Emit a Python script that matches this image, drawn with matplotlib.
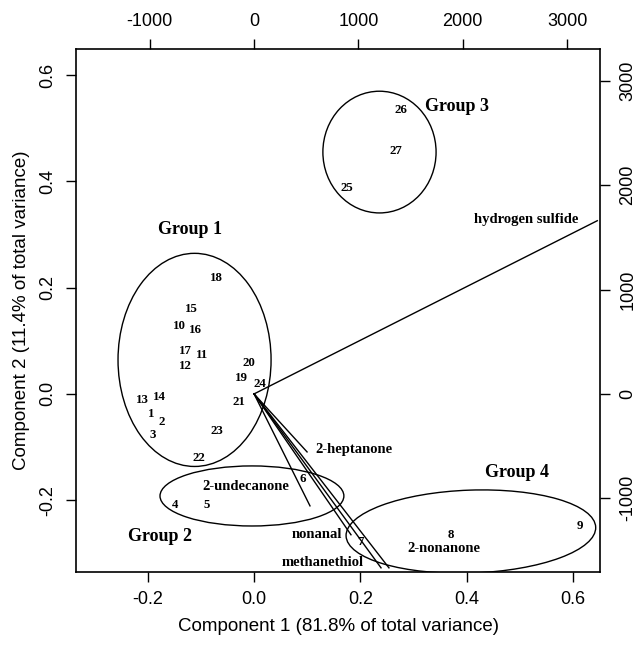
import numpy as np
from matplotlib import pyplot as plt
from matplotlib.patches import Ellipse

# scores (component 1, component 2) of the 27 samples
sample_ids = [str(i) for i in range(1, 28)]
pc1 = [-0.194, -0.173, -0.190, -0.149, -0.090, 0.092, 0.201, 0.371, 0.613,
       -0.141, -0.098, -0.130, -0.211, -0.179, -0.118, -0.111, -0.130, -0.070,
       -0.024, -0.009, -0.028, -0.103, -0.070, 0.011, 0.175, 0.276, 0.267]
pc2 = [-0.038, -0.053, -0.077, -0.209, -0.209, -0.160, -0.278, -0.265, -0.248,
       0.128, 0.073, 0.053, -0.011, -0.006, 0.160, 0.120, 0.081, 0.218,
       0.030, 0.058, -0.015, -0.120, -0.070, 0.019, 0.387, 0.534, 0.457]

# loadings of the volatile compounds (top / right scale)
compounds = ['hydrogen sulfide', '2-heptanone', '2-undecanone',
             'nonanal', 'methanethiol', '2-nonanone']
load1 = [3290, 508, 536, 929, 1217, 1293]
load2 = [1660, -556, -1073, -1350, -1667, -1667]
compound_lab_x = [0.513, 0.188, -0.015, 0.118, 0.130, 0.357]
compound_lab_y = [0.329, -0.105, -0.175, -0.265, -0.318, -0.290]

# groups: ellipse centre, width, height, and label position
groups = ['Group 1', 'Group 2', 'Group 3', 'Group 4']
grp_cx = [-0.112, -0.004, 0.236, 0.408]
grp_cy = [0.064, -0.192, 0.455, -0.259]
grp_w = [0.288, 0.346, 0.213, 0.470]
grp_h = [0.401, 0.113, 0.229, 0.156]
grp_angle = [0, 0, 0, 2]
grp_lab_x = [-0.120, -0.177, 0.382, 0.495]
grp_lab_y = [0.310, -0.269, 0.540, -0.147]

xticks = [-0.2, 0.0, 0.2, 0.4, 0.6]
xtick_labels = ['-0.2', '0.0', '0.2', '0.4', '0.6']
top_ticks = [-1000, 0, 1000, 2000, 3000]
top_labels = ['-1000', '0', '1000', '2000', '3000']

xlim = (-0.335, 0.651)
ylim = (-0.335, 0.649)
K = 5094  # ratio between loading scale and score scale

serif = 'Liberation Serif'
sans = 'Liberation Sans'

fig = plt.figure(figsize=(6.39, 6.46), dpi=100)
ax = fig.add_axes([0.119, 0.1146, 0.82, 0.8096])
ax.set_xlim(xlim)
ax.set_ylim(ylim)

for s, x, y in zip(sample_ids, pc1, pc2):
    ax.text(x, y, s, ha='center', va='center', fontsize=9.3,
            fontweight='bold', family=serif)

for i in range(len(groups)):
    e = Ellipse((grp_cx[i], grp_cy[i]), grp_w[i], grp_h[i], angle=grp_angle[i],
                fill=False, lw=1.0, color='black')
    ax.add_patch(e)
    ax.text(grp_lab_x[i], grp_lab_y[i], groups[i], ha='center', va='center',
            fontsize=13, fontweight='bold', family=serif)

for name, x, y in zip(compounds, compound_lab_x, compound_lab_y):
    ax.text(x, y, name, ha='center', va='center', fontsize=10.5,
            fontweight='bold', family=serif)

ax.set_xticks(xticks)
ax.set_yticks(xticks)
ax.set_xticklabels(xtick_labels)
ax.set_yticklabels(xtick_labels, rotation=90, va='center')
ax.tick_params(direction='out', length=7, width=1, labelsize=13, pad=7)
ax.set_xlabel('Component 1 (81.8% of total variance)', fontsize=13.5,
              family=sans, labelpad=7)
ax.set_ylabel('Component 2 (11.4% of total variance)', fontsize=13.5,
              family=sans, labelpad=7)
for lab in ax.get_xticklabels() + ax.get_yticklabels():
    lab.set_family(sans)
for sp in ax.spines.values():
    sp.set_linewidth(1.2)

# overlay axes for the loadings
ax2 = fig.add_axes(ax.get_position(), frameon=False)
ax2.set_xlim(xlim[0] * K, xlim[1] * K)
ax2.set_ylim(ylim[0] * K, ylim[1] * K)
ax2.xaxis.tick_top()
ax2.yaxis.tick_right()
ax2.set_xticks(top_ticks)
ax2.set_yticks(top_ticks)
ax2.set_xticklabels(top_labels)
ax2.set_yticklabels(top_labels, rotation=90, va='center')
ax2.tick_params(direction='out', length=7, width=1, labelsize=13, pad=7)
for lab in ax2.get_xticklabels() + ax2.get_yticklabels():
    lab.set_family(sans)
for x, y in zip(load1, load2):
    ax2.plot([0, x], [0, y], color='black', lw=1.0)

fig.savefig('out.png', dpi=100)
